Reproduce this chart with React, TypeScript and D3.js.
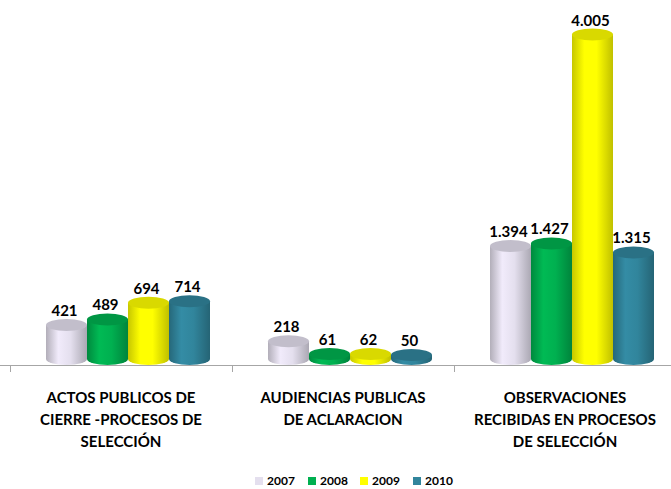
import React, { useEffect, useRef } from 'react';
import * as d3 from 'd3';

const categories = [
  ['ACTOS PUBLICOS DE', 'CIERRE -PROCESOS DE', 'SELECCIÓN'],
  ['AUDIENCIAS PUBLICAS', 'DE ACLARACION'],
  ['OBSERVACIONES', 'RECIBIDAS EN PROCESOS', 'DE SELECCIÓN'],
];
const years = ['2007', '2008', '2009', '2010'];
const colors = ['#e4dfee', '#00b050', '#ffff00', '#31859c'];
const values2007 = [421, 218, 1394];
const values2008 = [489, 61, 1427];
const values2009 = [694, 62, 4005];
const values2010 = [714, 50, 1315];
const series = [values2007, values2008, values2009, values2010];

const fmt = (v: number) => (v >= 1000 ? d3.format(',')(v).replace(',', '.') : String(v));

function App() {
  const chartRef = useRef<HTMLDivElement>(null);

  useEffect(() => {
    const width = 671;
    const height = 489;
    const font = 'Lato, "Open Sans", sans-serif';

    const root = d3.select(chartRef.current);
    root.selectAll('*').remove();
    const svg = root.append('svg')
      .attr('width', width)
      .attr('height', height)
      .style('display', 'block');

    const baseY = 359;
    const ry = 6;

    const x0 = d3.scaleBand<number>()
      .domain(d3.range(categories.length))
      .range([10, 676]);

    const x1 = d3.scaleBand<number>()
      .domain(d3.range(years.length))
      .range([36, 200]);

    const y = d3.scaleLinear()
      .domain([0, 4000])
      .range([baseY, 35]);

    // gradients for cylinder bodies
    const defs = svg.append('defs');
    colors.forEach((c, i) => {
      const g = defs.append('linearGradient')
        .attr('id', `cyl${i}`)
        .attr('x1', '0%').attr('x2', '100%').attr('y1', '0%').attr('y2', '0%');
      const base = d3.color(c)!;
      g.append('stop').attr('offset', '0%').attr('stop-color', base.darker(0.7).formatHex());
      g.append('stop').attr('offset', '30%').attr('stop-color', base.brighter(0.15).formatHex());
      g.append('stop').attr('offset', '60%').attr('stop-color', base.formatHex());
      g.append('stop').attr('offset', '100%').attr('stop-color', base.darker(0.8).formatHex());
    });

    // axis line
    svg.append('line')
      .attr('x1', 0).attr('x2', width)
      .attr('y1', 365.5).attr('y2', 365.5)
      .attr('stroke', '#a6a6a6');

    svg.selectAll('.tick')
      .data(x0.domain().map(d => x0(d)!).concat([x0.range()[1]]))
      .enter().append('line')
      .attr('x1', d => Math.round(d) + 0.5)
      .attr('x2', d => Math.round(d) + 0.5)
      .attr('y1', 365).attr('y2', 372)
      .attr('stroke', '#a6a6a6');

    const bw = x1.bandwidth();
    const rx = bw / 2;

    categories.forEach((cat, ci) => {
      const gx = x0(ci)!;
      series.forEach((vals, si) => {
        const v = vals[ci];
        const cx = gx + x1(si)! + rx;
        const topY = y(v);
        const base = d3.color(colors[si])!;
        const g = svg.append('g');

        g.append('ellipse')
          .attr('cx', cx).attr('cy', baseY)
          .attr('rx', rx).attr('ry', ry)
          .attr('fill', `url(#cyl${si})`);

        g.append('rect')
          .attr('x', cx - rx).attr('y', topY)
          .attr('width', bw).attr('height', baseY - topY)
          .attr('fill', `url(#cyl${si})`);

        g.append('ellipse')
          .attr('cx', cx).attr('cy', topY)
          .attr('rx', rx).attr('ry', ry)
          .attr('fill', base.darker(0.45).formatHex());

        svg.append('text')
          .attr('x', cx - 2)
          .attr('y', topY - ry - 3)
          .attr('text-anchor', 'middle')
          .attr('font-family', font)
          .attr('font-weight', 'bold')
          .attr('font-size', 15)
          .attr('fill', '#000')
          .text(fmt(v));
      });

      const label = svg.append('text')
        .attr('text-anchor', 'middle')
        .attr('font-family', font)
        .attr('font-weight', 'bold')
        .attr('font-size', 15)
        .attr('fill', '#000');
      cat.forEach((line, li) => {
        label.append('tspan')
          .attr('x', gx + x0.bandwidth() / 2)
          .attr('y', 403 + li * 22)
          .text(line);
      });
    });

    // legend
    const legendX = [255, 308, 360, 413];
    const legend = svg.selectAll('.legend')
      .data(years)
      .enter().append('g')
      .attr('transform', (d, i) => `translate(${legendX[i]},0)`);

    legend.append('rect')
      .attr('x', 0).attr('y', 477)
      .attr('width', 8).attr('height', 8)
      .attr('fill', (d, i) => colors[i]);

    legend.append('text')
      .attr('x', 12).attr('y', 485)
      .attr('font-family', font)
      .attr('font-weight', 'bold')
      .attr('font-size', 12)
      .attr('fill', '#000')
      .text(d => d);
  }, []);

  return <div ref={chartRef} style={{ position: 'absolute', left: 0, top: 0 }}></div>;
}

export default App;
